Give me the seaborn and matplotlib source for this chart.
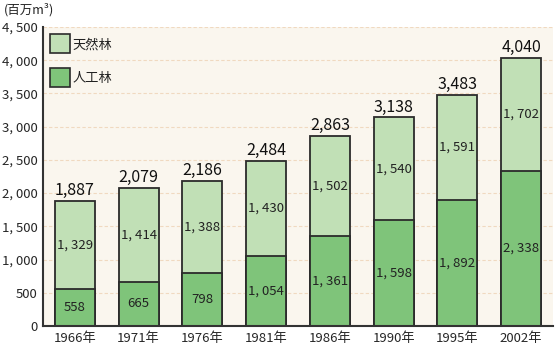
import matplotlib
matplotlib.use("Agg")
import matplotlib.pyplot as plt
import seaborn as sns
import pandas as pd
from matplotlib.patches import Rectangle

years = ["1966年", "1971年", "1976年", "1981年", "1986年", "1990年", "1995年", "2002年"]
planted = [558, 665, 798, 1054, 1361, 1598, 1892, 2338]
natural = [1329, 1414, 1388, 1430, 1502, 1540, 1591, 1702]
totals = [p + n for p, n in zip(planted, natural)]
yticks = [0, 500, 1000, 1500, 2000, 2500, 3000, 3500, 4000, 4500]

sns.set_style("white")
plt.rcParams['font.family'] = ['Noto Sans CJK JP', 'DejaVu Sans']

light = "#c1e0b6"
dark = "#7fc47a"
edge = "#2b2b2b"

df = pd.DataFrame({"year": years, "planted": planted, "natural": natural, "total": totals})

fig = plt.figure(figsize=(5.58, 3.48), dpi=100)
ax = fig.add_axes([43/558, 22/348, 510/558, 299/348])
ax.set_facecolor("#faf6ee")

sns.barplot(data=df, x="year", y="total", color=light, saturation=1, width=0.63,
            edgecolor=edge, linewidth=1.3, ax=ax)
sns.barplot(data=df, x="year", y="planted", color=dark, saturation=1, width=0.63,
            edgecolor=edge, linewidth=1.3, ax=ax)

def fmt(v, sep=", "):
    s = f"{v:,}"
    return s.replace(",", sep)

for i in range(len(years)):
    ax.text(i, planted[i] / 2, fmt(planted[i]), ha="center", va="center", fontsize=9.5, color="#222")
    ax.text(i, planted[i] + natural[i] / 2, fmt(natural[i]), ha="center", va="center", fontsize=9.5, color="#222")
    ax.text(i, totals[i] + 30, fmt(totals[i], ","), ha="center", va="bottom", fontsize=11.5,
            fontweight="normal", color="#111")

ax.set_ylim(0, 4500)
ax.set_xlim(-0.5, 7.5)
ax.set_yticks(yticks)
ax.set_yticklabels([fmt(t) for t in yticks], fontsize=9.5)
ax.set_xticks(range(len(years)))
ax.set_xticklabels(years, fontsize=9.5)
ax.tick_params(axis="x", length=0, pad=4)
ax.tick_params(axis="y", length=0, pad=4)
ax.set_xlabel("")
ax.set_ylabel("")
for t in yticks[1:]:
    ax.axhline(t, color="#f0d9c0", linestyle=(0, (3, 2)), linewidth=0.8, zorder=0)
ax.set_axisbelow(True)

for s in ["top", "right"]:
    ax.spines[s].set_visible(False)
for s in ["left", "bottom"]:
    ax.spines[s].set_color("#333")
    ax.spines[s].set_linewidth(1.5)

# legend
for k, (lab, col) in enumerate([("天然林", light), ("人工林", dark)]):
    y0 = 4250 - k * 510
    ax.add_patch(Rectangle((-0.39, y0 - 140), 0.31, 280, facecolor=col, edgecolor=edge,
                           linewidth=1.2, clip_on=False, zorder=5))
    ax.text(-0.04, y0 - 20, lab, ha="left", va="center", fontsize=9.5, color="#222")

fig.text(4/558, 1 - 10/348, "(百万m³)", ha="left", va="center", fontsize=9, color="#222")

fig.savefig("out.png", dpi=100, facecolor="white")
